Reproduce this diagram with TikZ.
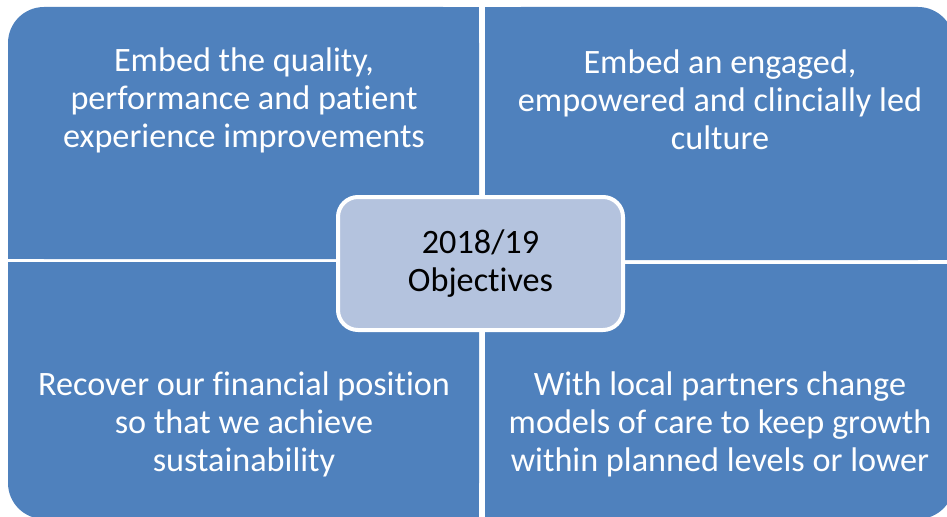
\documentclass[tikz,border=0pt]{standalone}
\usepackage{fontspec}
\setmainfont{Carlito}[RawFeature={-liga}]
\definecolor{quad}{HTML}{4F81BD}
\definecolor{hub}{HTML}{B4C3DE}
\begin{document}
\begin{tikzpicture}[x=0.75pt,y=-0.75pt,
  quadtext/.style={text=white, align=center, inner sep=0pt,
    font=\fontsize{25.65}{28.5}\selectfont},
  hubbox/.style={fill=hub, draw=white, line width=3pt, rounded corners=15pt,
    minimum width=213.75pt, minimum height=99.75pt, inner sep=0pt,
    align=center, text=black, font=\fontsize{25.65}{28.5}\selectfont}]
\useasboundingbox (0,0) rectangle (947,517);
\begin{scope}
  \clip (0,0) rectangle (947,517);
  % top-left quadrant (outer corner rounded)
  \fill[quad, rounded corners=27pt] (8,7) rectangle (479,259);
  \fill[quad] (8,60) rectangle (479,259);
  \fill[quad] (60,7) rectangle (479,259);
  % top-right quadrant
  \fill[quad, rounded corners=27pt] (485,7) rectangle (954,260);
  \fill[quad] (485,60) rectangle (954,260);
  \fill[quad] (485,7) rectangle (900,260);
  % bottom-left quadrant
  \fill[quad, rounded corners=27pt] (8,262) rectangle (479,519);
  \fill[quad] (8,262) rectangle (479,460);
  \fill[quad] (60,262) rectangle (479,519);
  % bottom-right quadrant
  \fill[quad, rounded corners=27pt] (485,264) rectangle (954,519);
  \fill[quad] (485,264) rectangle (954,460);
  \fill[quad] (485,264) rectangle (900,519);
\end{scope}
\node[quadtext] (tl) at (244,100) {Embed the quality,\\performance and patient\\experience improvements};
\node[quadtext] (tr) at (720,100) {Embed an engaged,\\empowered and clincially led\\culture};
\node[quadtext] (bl) at (244,424) {Recover our financial position\\so that we achieve\\sustainability};
\node[quadtext] (br) at (720,424) {With local partners change\\models of care to keep growth\\within planned levels or lower};
\node[hubbox] (hub) at (480.5,263.5) {2018/19\\Objectives};
\end{tikzpicture}
\end{document}
